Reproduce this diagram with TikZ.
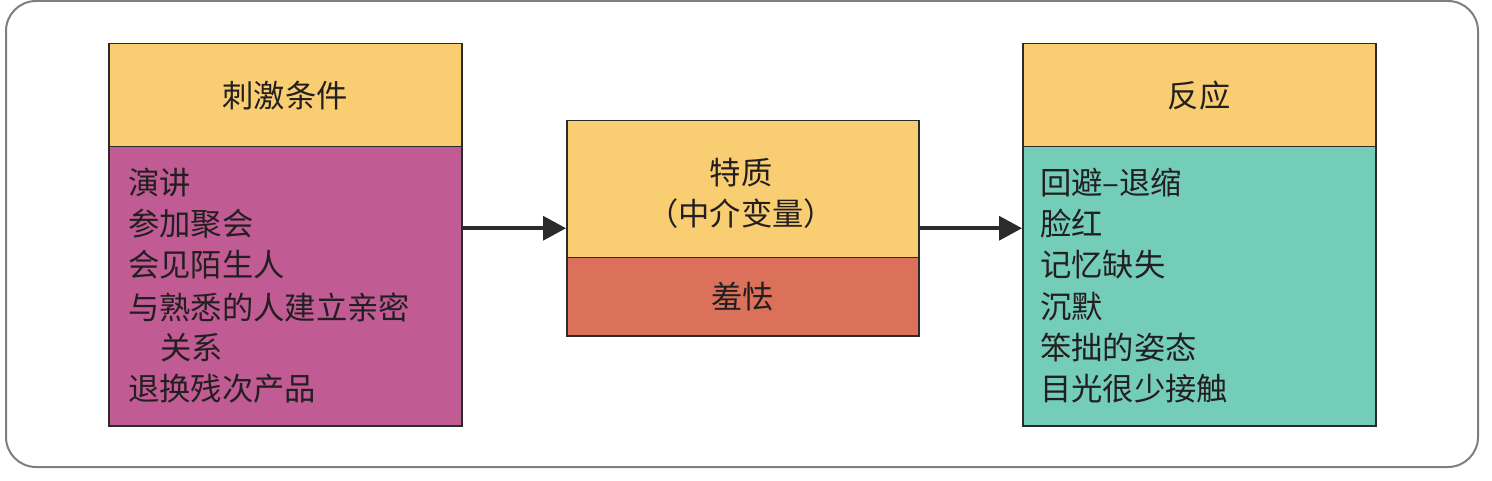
\documentclass[tikz,border=0pt]{standalone}
\usepackage{fontspec}
\newfontfamily\cjk{Noto Sans CJK SC}
\usetikzlibrary{arrows.meta}
\definecolor{hdr}{HTML}{F9CE72}
\definecolor{mag}{HTML}{C05B94}
\definecolor{teal2}{HTML}{74CDB8}
\definecolor{redo}{HTML}{DB705B}
\definecolor{edge}{HTML}{2B2B2B}
\definecolor{frm}{HTML}{7F7F7F}
\definecolor{ink}{HTML}{231F20}
\tikzset{
  frame/.style={draw=frm, line width=2pt, rounded corners=30pt},
  box/.style={draw=edge, line width=1.5pt, inner sep=0pt, anchor=north west},
  txt/.style={text=ink, inner sep=0pt, font=\cjk\fontsize{31.3}{41}\selectfont},
  line/.style={txt, anchor=west},
  conn/.style={draw=edge, line width=3.5pt, -{Triangle[length=23pt,width=24pt]}}
}
\begin{document}
\begin{tikzpicture}[x=1pt,y=-1pt]
\useasboundingbox (0,0) rectangle (1492,481);
\draw[frame] (6,1) rectangle (1478,467);
% left
\node[box, fill=hdr, minimum width=353pt, minimum height=103pt] (lhead) at (108,43) {};
\node[box, fill=mag, minimum width=353pt, minimum height=279pt] (lbody) at (108,146) {};
\node[txt] (lt) at (lhead.center) {刺激条件};
\node[line] (l1) at (128,183) {演讲};
\node[line] (l2) at (128,224) {参加聚会};
\node[line] (l3) at (128,265) {会见陌生人};
\node[line] (l4) at (128,307) {与熟悉的人建立亲密};
\node[line] (l5) at (160,348) {关系};
\node[line] (l6) at (128,389) {退换残次产品};
% middle
\node[box, minimum width=352pt, minimum height=215pt] (mid) at (566,120) {};
\node[box, fill=hdr, minimum width=352pt, minimum height=137pt] (mhead) at (566,120) {};
\node[box, fill=redo, minimum width=352pt, minimum height=78pt] (mbody) at (566,257) {};
\node[txt] (m1) at (741,173) {特质};
\node[txt] (m2) at (741,214) {（中介变量）};
\node[txt] (m3) at (mbody.center) {羞怯};
% right
\node[box, fill=hdr, minimum width=353pt, minimum height=103pt] (rhead) at (1022,43) {};
\node[box, fill=teal2, minimum width=353pt, minimum height=279pt] (rbody) at (1022,146) {};
\node[txt] (rt) at (rhead.center) {反应};
\node[line] (r1) at (1040,183) {回避–退缩};
\node[line] (r2) at (1040,224) {脸红};
\node[line] (r3) at (1040,265) {记忆缺失};
\node[line] (r4) at (1040,307) {沉默};
\node[line] (r5) at (1040,348) {笨拙的姿态};
\node[line] (r6) at (1040,389) {目光很少接触};
% connectors
\draw[conn] (lbody.east |- mid.west) -- (mid.west);
\draw[conn] (mid.east) -- (rbody.west |- mid.east);
\end{tikzpicture}
\end{document}
